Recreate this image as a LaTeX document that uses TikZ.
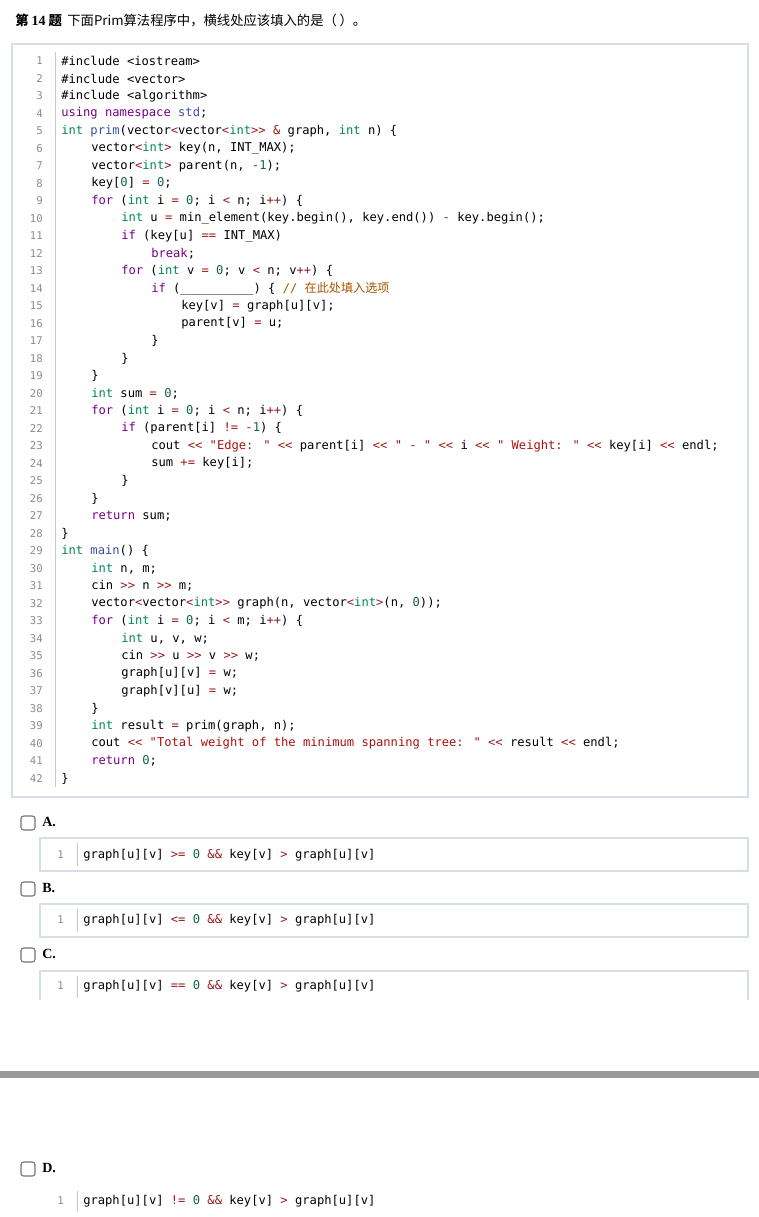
\documentclass[tikz,border=0pt]{standalone}
\usepackage{fontspec}
\setmainfont{Liberation Serif}
\newfontfamily\code{DejaVu Sans Mono}
\newfontfamily\cjk{Noto Sans CJK SC}
\definecolor{kwcol}{HTML}{770088}
\definecolor{tycol}{HTML}{008855}
\definecolor{nucol}{HTML}{116644}
\definecolor{opcol}{HTML}{981A1A}
\definecolor{stcol}{HTML}{AA1111}
\definecolor{cmcol}{HTML}{AA5500}
\definecolor{fncol}{HTML}{3A4FA0}
\definecolor{boxcol}{HTML}{D6DFE8}
\definecolor{gutcol}{HTML}{C8C8C8}
\newcommand\K[1]{\textcolor{kwcol}{#1}}
\newcommand\T[1]{\textcolor{tycol}{#1}}
\newcommand\N[1]{\textcolor{nucol}{#1}}
\newcommand\Op[1]{\textcolor{opcol}{#1}}
\newcommand\St[1]{\textcolor{stcol}{#1}}
\newcommand\Cm[1]{\textcolor{cmcol}{#1}}
\newcommand\F[1]{\textcolor{fncol}{#1}}
\tikzset{
  codeln/.style={anchor=west, inner sep=0pt, font=\code\fontsize{9.1}{10}\selectfont, text=black},
  lnum/.style={anchor=east, inner sep=0pt, font=\code\fontsize{8}{10}\selectfont, text=black!45},
  codebox/.style={draw=boxcol, line width=0.9pt, fill=white},
  gutter/.style={draw=gutcol, line width=0.6pt},
  checkbox/.style={draw=black!55, line width=0.8pt, rounded corners=2pt},
  optlabel/.style={anchor=west, inner sep=0pt, font=\bfseries\fontsize{10.5}{12}\selectfont}
}
\newcommand\codeline[3]{\node[codeln] (c#1) at ({61+30*#2},{61+17.5*(#1-1)}) {#3};}
\begin{document}
\begin{tikzpicture}[x=0.75pt, y=-0.75pt]
\useasboundingbox (0,0) rectangle (759,1217);
\fill[white] (0,0) rectangle (759,1217);

% title
\node[anchor=west, inner sep=0pt] (title) at (15,20)
  {{\cjk\bfseries\fontsize{10}{12}\selectfont 第 {\rmfamily\bfseries\fontsize{10.5}{12}\selectfont 14} 题}\hspace{4pt}{\cjk\fontsize{10}{12}\selectfont 下面Prim算法程序中，横线处应该填入的是（\hspace{2pt}）。}};

% main code box
\draw[codebox] (12,44) rectangle (748,797);
\draw[gutter] (55,52) -- (55,787);
\foreach \i in {1,...,42}
  \node[lnum] (n\i) at (43,{61+17.5*(\i-1)}) {\i};

\codeline{1}{0}{\#include <iostream>}
\codeline{2}{0}{\#include <vector>}
\codeline{3}{0}{\#include <algorithm>}
\codeline{4}{0}{\K{using} \K{namespace} \F{std};}
\codeline{5}{0}{\T{int} \F{prim}(vector\Op{<}vector\Op{<}\T{int}\Op{>{}>} \Op{\&} graph, \T{int} n) \{}
\codeline{6}{1}{vector\Op{<}\T{int}\Op{>} key(n, INT\_MAX);}
\codeline{7}{1}{vector\Op{<}\T{int}\Op{>} parent(n, \Op{-}\N{1});}
\codeline{8}{1}{key[\N{0}] \Op{=} \N{0};}
\codeline{9}{1}{\K{for} (\T{int} i \Op{=} \N{0}; i \Op{<} n; i\Op{+{}+}) \{}
\codeline{10}{2}{\T{int} u \Op{=} min\_element(key.begin(), key.end()) \Op{-} key.begin();}
\codeline{11}{2}{\K{if} (key[u] \Op{=={}} INT\_MAX)}
\codeline{12}{3}{\K{break};}
\codeline{13}{2}{\K{for} (\T{int} v \Op{=} \N{0}; v \Op{<} n; v\Op{+{}+}) \{}
\codeline{14}{3}{\K{if} (\_\_\_\_\_\_\_\_\_\_) \{ \Cm{/{}/ {\cjk 在此处填入选项}}}
\codeline{15}{4}{key[v] \Op{=} graph[u][v];}
\codeline{16}{4}{parent[v] \Op{=} u;}
\codeline{17}{3}{\}}
\codeline{18}{2}{\}}
\codeline{19}{1}{\}}
\codeline{20}{1}{\T{int} sum \Op{=} \N{0};}
\codeline{21}{1}{\K{for} (\T{int} i \Op{=} \N{0}; i \Op{<} n; i\Op{+{}+}) \{}
\codeline{22}{2}{\K{if} (parent[i] \Op{!=} \Op{-}\N{1}) \{}
\codeline{23}{3}{cout \Op{<{}<} \St{"Edge: "} \Op{<{}<} parent[i] \Op{<{}<} \St{" - "} \Op{<{}<} i \Op{<{}<} \St{" Weight: "} \Op{<{}<} key[i] \Op{<{}<} endl;}
\codeline{24}{3}{sum \Op{+=} key[i];}
\codeline{25}{2}{\}}
\codeline{26}{1}{\}}
\codeline{27}{1}{\K{return} sum;}
\codeline{28}{0}{\}}
\codeline{29}{0}{\T{int} \F{main}() \{}
\codeline{30}{1}{\T{int} n, m;}
\codeline{31}{1}{cin \Op{>{}>} n \Op{>{}>} m;}
\codeline{32}{1}{vector\Op{<}vector\Op{<}\T{int}\Op{>{}>} graph(n, vector\Op{<}\T{int}\Op{>}(n, \N{0}));}
\codeline{33}{1}{\K{for} (\T{int} i \Op{=} \N{0}; i \Op{<} m; i\Op{+{}+}) \{}
\codeline{34}{2}{\T{int} u, v, w;}
\codeline{35}{2}{cin \Op{>{}>} u \Op{>{}>} v \Op{>{}>} w;}
\codeline{36}{2}{graph[u][v] \Op{=} w;}
\codeline{37}{2}{graph[v][u] \Op{=} w;}
\codeline{38}{1}{\}}
\codeline{39}{1}{\T{int} result \Op{=} prim(graph, n);}
\codeline{40}{1}{cout \Op{<{}<} \St{"Total weight of the minimum spanning tree: "} \Op{<{}<} result \Op{<{}<} endl;}
\codeline{41}{1}{\K{return} \N{0};}
\codeline{42}{0}{\}}

% option A
\draw[checkbox] (21,816) rectangle (35,830);
\node[optlabel] (labA) at (42,822) {A.};
\draw[codebox] (40,838) rectangle (748,871);
\draw[gutter] (77,843) -- (77,866);
\node[lnum] (nA) at (64,855) {1};
\node[codeln] (optA) at (83,855) {graph[u][v] \Op{>=} \N{0} \Op{\&\&} key[v] \Op{>} graph[u][v]};

% option B
\draw[checkbox] (21,882) rectangle (35,896);
\node[optlabel] (labB) at (42,888) {B.};
\draw[codebox] (40,904) rectangle (748,937);
\draw[gutter] (77,909) -- (77,932);
\node[lnum] (nB) at (64,920) {1};
\node[codeln] (optB) at (83,920) {graph[u][v] \Op{<=} \N{0} \Op{\&\&} key[v] \Op{>} graph[u][v]};

% option C (cut off)
\draw[checkbox] (21,948) rectangle (35,962);
\node[optlabel] (labC) at (42,954) {C.};
\draw[draw=boxcol, line width=0.9pt] (40,1000) -- (40,971) -- (748,971) -- (748,1000);
\draw[gutter] (77,976) -- (77,998);
\node[lnum] (nC) at (64,986) {1};
\node[codeln] (optC) at (83,986) {graph[u][v] \Op{=={}} \N{0} \Op{\&\&} key[v] \Op{>} graph[u][v]};

% page break bar
\fill[black!40] (0,1071) rectangle (759,1078);

% option D
\draw[checkbox] (21,1162) rectangle (35,1176);
\node[optlabel] (labD) at (42,1168) {D.};
\draw[gutter] (77,1191) -- (77,1212);
\node[lnum] (nD) at (64,1201) {1};
\node[codeln] (optD) at (83,1201) {graph[u][v] \Op{!=} \N{0} \Op{\&\&} key[v] \Op{>} graph[u][v]};
\end{tikzpicture}
\end{document}
